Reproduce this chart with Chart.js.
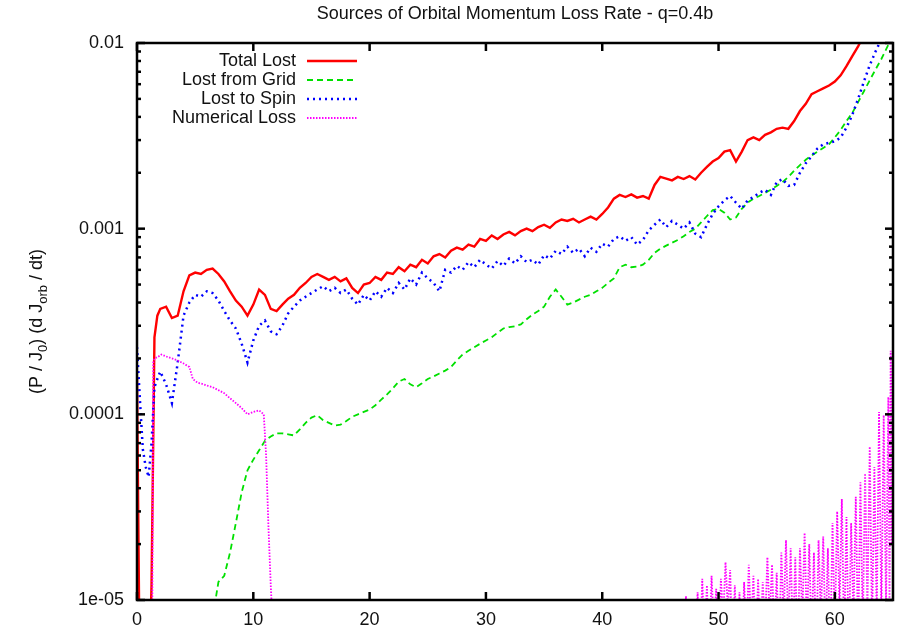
<!DOCTYPE html>
<html>
<head>
<meta charset="utf-8">
<title>Sources of Orbital Momentum Loss Rate</title>
<script src="https://cdn.jsdelivr.net/npm/chart.js@4/dist/chart.umd.min.js"></script>
<style>
    html, body { margin: 0; padding: 0; background: #fff; }
    #wrap { position: relative; width: 904px; height: 630px; }
</style>
</head>
<body>
<div id="wrap"><canvas id="lossChart"></canvas></div>
<script>
// ── Data ───────────────────────────────────────────────────
const TITLE        = 'Sources of Orbital Momentum Loss Rate - q=0.4b';
const Y_TITLE      = ['(P / J', '0', ') (d J', 'orb', ' / dt)'];   // odd entries are subscripts
const SERIES_NAMES = ['Total Lost', 'Lost from Grid', 'Lost to Spin', 'Numerical Loss'];

const xTicks      = [0, 10, 20, 30, 40, 50, 60];
const yTicks      = [1e-5, 1e-4, 1e-3, 1e-2];
const yTickLabels = ['1e-05', '0.0001', '0.001', '0.01'];

// time samples shared by the first three series
const T = [
    0, 0.25, 0.5, 0.75, 1, 1.25, 1.5, 1.75, 2,
    2.5, 3, 3.5, 4, 4.5, 5, 5.5, 6, 6.5, 7, 7.5, 8, 8.5, 9, 9.5, 10,
    10.5, 11, 11.5, 12, 12.5, 13, 13.5, 14, 14.5, 15, 15.5, 16, 16.5, 17, 17.5, 18, 18.5, 19, 19.5, 20,
    20.5, 21, 21.5, 22, 22.5, 23, 23.5, 24, 24.5, 25, 25.5, 26, 26.5, 27, 27.5, 28, 28.5, 29, 29.5, 30,
    30.5, 31, 31.5, 32, 32.5, 33, 33.5, 34, 34.5, 35, 35.5, 36, 36.5, 37, 37.5, 38, 38.5, 39, 39.5, 40,
    40.5, 41, 41.5, 42, 42.5, 43, 43.5, 44, 44.5, 45, 45.5, 46, 46.5, 47, 47.5, 48, 48.5, 49, 49.5, 50,
    50.5, 51, 51.5, 52, 52.5, 53, 53.5, 54, 54.5, 55, 55.5, 56, 56.5, 57, 57.5, 58, 58.5, 59, 59.5, 60,
    60.5, 61, 61.5, 62, 62.5, 63, 63.5, 64, 64.5, 65,
];

const totalLost = [
    1.6e-4, 3e-6, 3e-6, 3e-6, 3e-6, 1.2e-5, 2.6e-4, 3.4e-4, 3.7e-4,
    3.8e-4, 3.3e-4, 3.4e-4, 4.6e-4, 5.6e-4, 5.8e-4, 5.7e-4, 6.0e-4, 6.1e-4, 5.7e-4, 5.2e-4, 4.6e-4, 4.1e-4, 3.8e-4, 3.4e-4, 3.9e-4,
    4.7e-4, 4.4e-4, 3.7e-4, 3.6e-4, 3.9e-4, 4.2e-4, 4.4e-4, 4.8e-4, 5.1e-4, 5.5e-4, 5.7e-4, 5.5e-4, 5.3e-4, 5.5e-4, 5.2e-4, 5.4e-4, 4.8e-4, 4.5e-4, 5.0e-4, 5.1e-4,
    5.5e-4, 5.3e-4, 5.8e-4, 5.7e-4, 6.2e-4, 5.9e-4, 6.4e-4, 6.2e-4, 6.8e-4, 6.5e-4, 7.1e-4, 7.3e-4, 7.0e-4, 7.6e-4, 7.9e-4, 7.7e-4, 8.2e-4, 8.0e-4, 8.8e-4, 8.6e-4,
    9.2e-4, 8.8e-4, 9.3e-4, 9.6e-4, 9.2e-4, 9.7e-4, 1.0e-3, 9.7e-4, 1.02e-3, 1.05e-3, 1.01e-3, 1.08e-3, 1.12e-3, 1.10e-3, 1.13e-3, 1.08e-3, 1.12e-3, 1.16e-3, 1.12e-3, 1.20e-3,
    1.3e-3, 1.45e-3, 1.52e-3, 1.48e-3, 1.53e-3, 1.47e-3, 1.50e-3, 1.45e-3, 1.72e-3, 1.9e-3, 1.86e-3, 1.82e-3, 1.9e-3, 1.85e-3, 1.92e-3, 1.84e-3, 2.0e-3, 2.15e-3, 2.3e-3, 2.4e-3,
    2.6e-3, 2.65e-3, 2.3e-3, 2.6e-3, 3.0e-3, 3.1e-3, 3.0e-3, 3.2e-3, 3.3e-3, 3.45e-3, 3.5e-3, 3.45e-3, 3.8e-3, 4.3e-3, 4.7e-3, 5.3e-3, 5.5e-3, 5.7e-3, 5.9e-3, 6.2e-3,
    6.7e-3, 7.5e-3, 8.5e-3, 9.6e-3, 1.1e-2, 1.25e-2, 1.4e-2, 1.6e-2, 1.8e-2, 2.0e-2,
];

const lostFromGrid = [
    5e-6, 5e-6, 5e-6, 5e-6, 5e-6, 5e-6, 5e-6, 5e-6, 5e-6,
    5e-6, 5e-6, 5e-6, 5e-6, 5e-6, 5e-6, 5e-6, 5e-6, 8e-6, 1.25e-5, 1.35e-5, 1.8e-5, 2.6e-5, 3.8e-5, 5.0e-5, 5.7e-5,
    6.4e-5, 7.2e-5, 7.6e-5, 7.9e-5, 7.9e-5, 7.8e-5, 7.7e-5, 8.3e-5, 9.0e-5, 9.6e-5, 9.9e-5, 9.3e-5, 9.0e-5, 8.7e-5, 8.8e-5, 9.2e-5, 9.7e-5, 1.0e-4, 1.03e-4, 1.06e-4,
    1.12e-4, 1.2e-4, 1.28e-4, 1.38e-4, 1.5e-4, 1.55e-4, 1.45e-4, 1.4e-4, 1.47e-4, 1.55e-4, 1.6e-4, 1.66e-4, 1.72e-4, 1.8e-4, 1.95e-4, 2.1e-4, 2.2e-4, 2.3e-4, 2.4e-4, 2.5e-4,
    2.6e-4, 2.75e-4, 2.9e-4, 2.95e-4, 2.98e-4, 3.05e-4, 3.25e-4, 3.45e-4, 3.6e-4, 3.8e-4, 4.3e-4, 4.7e-4, 4.3e-4, 3.9e-4, 4.0e-4, 4.15e-4, 4.3e-4, 4.4e-4, 4.6e-4, 4.8e-4,
    5.1e-4, 5.4e-4, 6.2e-4, 6.4e-4, 6.2e-4, 6.25e-4, 6.4e-4, 6.8e-4, 7.4e-4, 7.8e-4, 8.1e-4, 8.4e-4, 8.7e-4, 9.1e-4, 9.6e-4, 1.0e-3, 1.08e-3, 1.17e-3, 1.26e-3, 1.28e-3,
    1.22e-3, 1.12e-3, 1.15e-3, 1.28e-3, 1.38e-3, 1.45e-3, 1.5e-3, 1.56e-3, 1.62e-3, 1.7e-3, 1.78e-3, 1.9e-3, 2.05e-3, 2.2e-3, 2.35e-3, 2.48e-3, 2.6e-3, 2.72e-3, 2.85e-3, 3.1e-3,
    3.4e-3, 3.8e-3, 4.2e-3, 4.8e-3, 5.5e-3, 6.3e-3, 7.2e-3, 8.2e-3, 9.5e-3, 1.1e-2,
];

const lostToSpin = [
    2.3e-4, 1.2e-4, 6.5e-5, 5.2e-5, 4.6e-5, 7e-5, 1.4e-4, 1.55e-4, 1.7e-4,
    1.45e-4, 1.15e-4, 1.9e-4, 3.4e-4, 4.0e-4, 4.4e-4, 4.3e-4, 4.6e-4, 4.5e-4, 4.1e-4, 3.6e-4, 3.2e-4, 2.9e-4, 2.4e-4, 1.9e-4, 2.5e-4,
    3.0e-4, 3.2e-4, 2.8e-4, 2.7e-4, 3.0e-4, 3.5e-4, 3.8e-4, 4.1e-4, 4.3e-4, 4.5e-4, 4.7e-4, 4.9e-4, 4.6e-4, 4.8e-4, 4.5e-4, 4.7e-4, 4.2e-4, 3.9e-4, 4.4e-4, 4.1e-4,
    4.6e-4, 4.3e-4, 4.8e-4, 4.5e-4, 5.1e-4, 4.7e-4, 5.4e-4, 5.0e-4, 5.8e-4, 5.4e-4, 5.1e-4, 4.6e-4, 6.0e-4, 5.8e-4, 6.3e-4, 6.0e-4, 6.6e-4, 6.2e-4, 6.8e-4, 6.4e-4,
    6.1e-4, 6.7e-4, 6.3e-4, 6.9e-4, 6.5e-4, 7.1e-4, 6.6e-4, 6.8e-4, 6.4e-4, 7.2e-4, 6.9e-4, 7.6e-4, 7.3e-4, 8.0e-4, 7.4e-4, 7.8e-4, 7.1e-4, 7.9e-4, 7.5e-4, 8.3e-4,
    8.0e-4, 8.8e-4, 9.1e-4, 8.6e-4, 9.0e-4, 8.2e-4, 8.7e-4, 9.8e-4, 1.05e-3, 1.12e-3, 1.02e-3, 1.10e-3, 1.05e-3, 1.0e-3, 1.08e-3, 9.4e-4, 9.0e-4, 1.05e-3, 1.2e-3, 1.32e-3,
    1.42e-3, 1.5e-3, 1.38e-3, 1.28e-3, 1.42e-3, 1.48e-3, 1.56e-3, 1.62e-3, 1.52e-3, 1.78e-3, 1.85e-3, 1.7e-3, 1.72e-3, 2.0e-3, 2.25e-3, 2.45e-3, 2.7e-3, 2.85e-3, 2.9e-3, 2.95e-3,
    3.1e-3, 3.5e-3, 4.1e-3, 5.0e-3, 6.2e-3, 7.6e-3, 9.0e-3, 1.05e-2, 1.2e-2, 1.35e-2,
];

// numerical loss has its own sampling: early plateau, a gap, then noisy spikes
const numT = [
    1.2, 1.3, 1.4, 1.5, 1.8, 2.1, 2.5, 3, 3.5, 4, 4.5, 4.8, 5.2, 5.6, 6, 6.5, 7, 7.5, 8, 8.5, 9, 9.5, 10, 10.5, 10.9, 11.1, 11.3, 11.5, 11.8,
    30,
    47.0, 47.2, 47.4, 47.6, 47.8, 48.0, 48.2, 48.4, 48.6, 48.8, 49.0, 49.2, 49.4, 49.6, 49.8,
    50.0, 50.2, 50.4, 50.6, 50.8, 51.0, 51.2, 51.4, 51.6, 51.8, 52.0, 52.2, 52.4, 52.6, 52.8,
    53.0, 53.2, 53.4, 53.6, 53.8, 54.0, 54.2, 54.4, 54.6, 54.8, 55.0, 55.2, 55.4, 55.6, 55.8,
    56.0, 56.2, 56.4, 56.6, 56.8, 57.0, 57.2, 57.4, 57.6, 57.8, 58.0, 58.2, 58.4, 58.6, 58.8,
    59.0, 59.2, 59.4, 59.6, 59.8, 60.0, 60.2, 60.4, 60.6, 60.8, 61.0, 61.2, 61.4, 61.6, 61.8,
    62.0, 62.2, 62.4, 62.6, 62.8, 63.0, 63.2, 63.4, 63.6, 63.8, 64.0, 64.2, 64.4, 64.6, 64.7, 64.8, 64.9, 65.0,
];
const numericalLoss = [
    5e-6, 5e-6, 1.9e-4, 2.0e-4, 2.04e-4, 2.1e-4, 2.05e-4, 2.0e-4, 1.95e-4, 1.88e-4, 1.8e-4, 1.55e-4, 1.48e-4, 1.46e-4, 1.43e-4, 1.4e-4, 1.35e-4, 1.3e-4, 1.22e-4, 1.15e-4, 1.08e-4, 1.0e-4, 1.03e-4, 1.05e-4, 1.0e-4, 6e-5, 2.5e-5, 1.2e-5, 5e-6,
    null,
    5e-6, 1.05e-5, 5e-6, 5e-6, 5e-6, 5e-6, 1.1e-5, 5e-6, 1.3e-5, 6e-6, 1.2e-5, 5e-6, 1.35e-5, 7e-6, 1.15e-5,
    5e-6, 1.3e-5, 8e-6, 1.6e-5, 9e-6, 1.45e-5, 5e-6, 1.2e-5, 5e-6, 1.1e-5, 5e-6, 1.25e-5, 6e-6, 1.55e-5, 7e-6,
    1.35e-5, 5e-6, 1.3e-5, 6e-6, 1.25e-5, 7e-6, 1.7e-5, 8e-6, 1.55e-5, 6e-6, 1.4e-5, 5e-6, 1.8e-5, 8e-6, 2.1e-5,
    7e-6, 1.9e-5, 6e-6, 1.7e-5, 5e-6, 1.9e-5, 8e-6, 2.3e-5, 7e-6, 2.0e-5, 6e-6, 1.8e-5, 5e-6, 2.1e-5, 8e-6,
    2.2e-5, 6e-6, 1.9e-5, 5e-6, 2.6e-5, 7e-6, 3.0e-5, 9e-6, 3.5e-5, 6e-6, 2.8e-5, 5e-6, 2.6e-5, 8e-6, 3.6e-5,
    6e-6, 4.3e-5, 7e-6, 4.8e-5, 9e-6, 6.7e-5, 7e-6, 5.2e-5, 8e-6, 1.03e-4, 8e-6, 9.9e-5, 9e-6, 1.24e-4, 1e-5, 2.2e-4, 2e-5, 3.2e-4,
];

// ── Style ──────────────────────────────────────────────────
const FONT      = '"Liberation Sans", Arial, Helvetica, sans-serif';
const TEXT_CLR  = '#111';
const minorMult = [2, 3, 4, 5, 6, 7, 8, 9];

const pairs = (xs, ys) => xs.map((x, i) => ({ x, y: ys[i] }));

// ── Plugins ────────────────────────────────────────────────
// gnuplot-like frame with inward ticks on all four sides
const framePlugin = {
    id: 'frame',
    afterDatasetsDraw(chart) {
        const { ctx, chartArea: a, scales: { x, y } } = chart;
        const seg = (x1, y1, x2, y2) => { ctx.beginPath(); ctx.moveTo(x1, y1); ctx.lineTo(x2, y2); ctx.stroke(); };
        ctx.save();
        ctx.strokeStyle = '#000';
        ctx.lineWidth   = 2.5;
        ctx.setLineDash([]);

        xTicks.forEach(v => {
            const px = x.getPixelForValue(v);
            seg(px, a.bottom, px, a.bottom - 8);
            seg(px, a.top, px, a.top + 8);
        });

        yTicks.forEach((d, k) => {
            const py = y.getPixelForValue(d);
            seg(a.left, py, a.left + 8, py);
            seg(a.right, py, a.right - 8, py);
            if (k === yTicks.length - 1) return;
            minorMult.forEach(m => {
                const pm = y.getPixelForValue(d * m);
                seg(a.left, pm, a.left + 4, pm);
                seg(a.right, pm, a.right - 4, pm);
            });
        });

        ctx.strokeRect(a.left, a.top, a.right - a.left, a.bottom - a.top);
        ctx.restore();
    },
};

// title, rotated y label with subscripts, and in-plot legend
const textPlugin = {
    id: 'texts',
    afterDraw(chart) {
        const { ctx, chartArea: a } = chart;
        ctx.save();
        ctx.fillStyle    = TEXT_CLR;
        ctx.textBaseline = 'middle';

        // title
        ctx.font      = `18px ${FONT}`;
        ctx.textAlign = 'center';
        ctx.fillText(TITLE, (a.left + a.right) / 2, 14);

        // y title
        const big = `18px ${FONT}`, small = `13px ${FONT}`;
        let total = 0;
        Y_TITLE.forEach((t, i) => { ctx.font = i % 2 ? small : big; total += ctx.measureText(t).width; });
        ctx.translate(37, (a.top + a.bottom) / 2);
        ctx.rotate(-Math.PI / 2);
        ctx.textAlign = 'left';
        let cx = -total / 2;
        Y_TITLE.forEach((t, i) => {
            ctx.font = i % 2 ? small : big;
            ctx.fillText(t, cx, i % 2 ? 6 : 0);
            cx += ctx.measureText(t).width;
        });
        ctx.setTransform(1, 0, 0, 1, 0, 0);

        // legend
        ctx.font      = `18px ${FONT}`;
        ctx.textAlign = 'right';
        chart.data.datasets.forEach((ds, i) => {
            const ly = 61 + i * 19;
            ctx.fillStyle = TEXT_CLR;
            ctx.fillText(ds.label, 296, ly);
            ctx.strokeStyle = ds.borderColor;
            ctx.lineWidth   = Math.min(ds.borderWidth, 2.5);
            ctx.setLineDash(ds.borderDash || []);
            ctx.beginPath();
            ctx.moveTo(307, ly);
            ctx.lineTo(357, ly);
            ctx.stroke();
        });
        ctx.restore();
    },
};

// ── Chart ──────────────────────────────────────────────────
Chart.defaults.font.family = FONT;
Chart.defaults.font.size   = 18;
Chart.defaults.color       = TEXT_CLR;

const lineBase = { pointRadius: 0, tension: 0, fill: false, spanGaps: false };

new Chart(document.getElementById('lossChart'), {
    type: 'line',
    data: {
        datasets: [
            { ...lineBase, label: SERIES_NAMES[0], data: pairs(T, totalLost),    borderColor: '#ff0000', borderWidth: 2.4, order: 4 },
            { ...lineBase, label: SERIES_NAMES[1], data: pairs(T, lostFromGrid), borderColor: '#00e000', borderWidth: 1.8, borderDash: [6, 4], order: 3 },
            { ...lineBase, label: SERIES_NAMES[2], data: pairs(T, lostToSpin),   borderColor: '#0000ff', borderWidth: 2.5, borderDash: [2, 4], order: 2 },
            { ...lineBase, label: SERIES_NAMES[3], data: pairs(numT, numericalLoss), borderColor: '#ff00ff', borderWidth: 1.8, borderDash: [1.5, 1.5], order: 1 },
        ],
    },
    options: {
        responsive:          true,
        maintainAspectRatio: false,
        animation:           false,
        layout: { padding: { top: 43, right: 11, left: 0, bottom: 0 } },
        plugins: {
            legend:  { display: false },
            tooltip: { enabled: false },
            title:   { display: false },
        },
        scales: {
            x: {
                type: 'linear',
                min: 0,
                max: 65,
                afterBuildTicks: s => { s.ticks = xTicks.map(v => ({ value: v })); },
                afterFit:        s => { s.height = 30; },
                grid:   { display: false, drawTicks: false },
                border: { display: false },
                ticks:  { padding: 9, maxRotation: 0, autoSkip: false },
            },
            y: {
                type: 'logarithmic',
                min: 1e-5,
                max: 1e-2,
                afterBuildTicks: s => { s.ticks = yTicks.map(v => ({ value: v })); },
                afterFit:        s => { s.width = 137; },
                grid:   { display: false, drawTicks: false },
                border: { display: false },
                ticks:  { padding: 13, autoSkip: false, callback: (v, i) => yTickLabels[i] },
            },
        },
    },
    plugins: [framePlugin, textPlugin],
});
</script>
</body>
</html>
